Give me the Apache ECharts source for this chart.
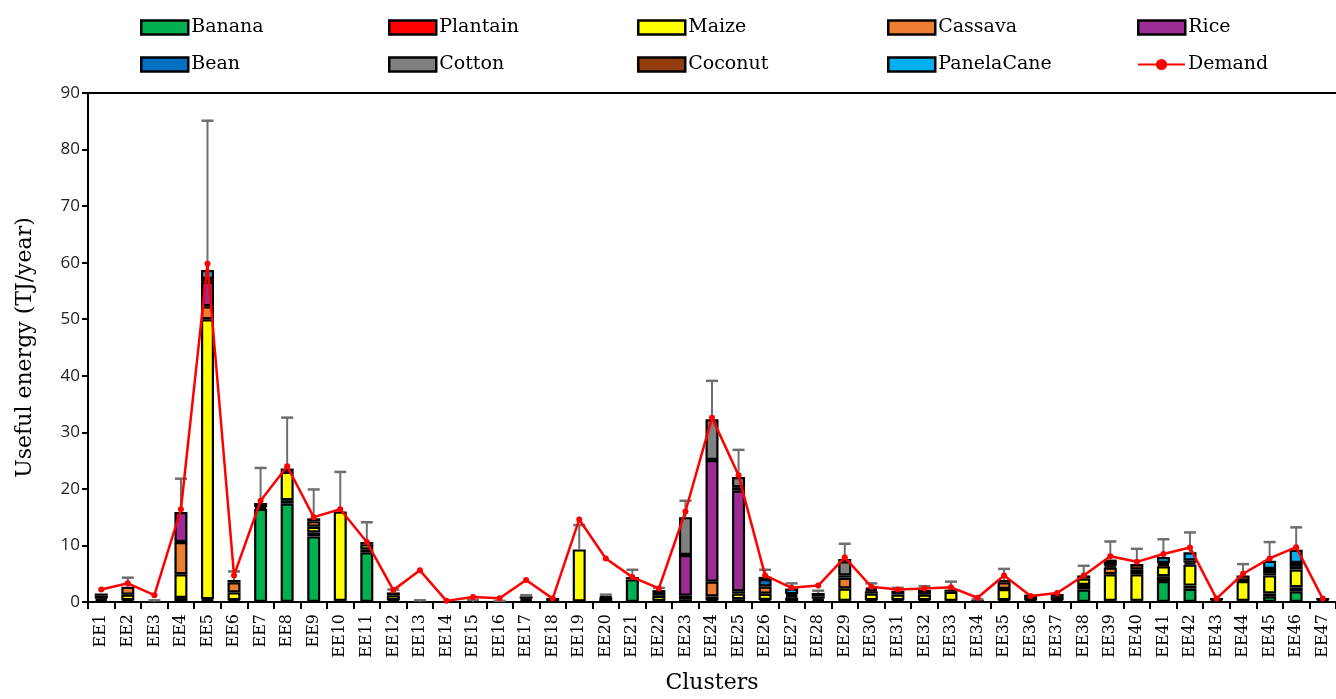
<!DOCTYPE html>
<html>
<head>
<meta charset="utf-8">
<style>
  html, body { margin: 0; padding: 0; background: #fff; }
  #chart { width: 1336px; height: 699px; }
</style>
<script src="https://cdn.jsdelivr.net/npm/echarts@6/dist/echarts.min.js"></script>
</head>
<body>
<div id="chart"></div>
<script>
// Cluster labels EE1..EE47
var categories = [];
for (var k = 1; k <= 47; k++) categories.push('EE' + k);

// Useful energy by crop residue (TJ/year), stacked bottom to top in this order
var banana = [0,0,0,0,0.2,0,16.5,17.4,11.6,0.2,8.8,0,0,0,0,0,0,0,0,0,4.0,0,0,0,0,0,0.8,0.3,0,0,0,0,0,0,0,0,0,2.2,0,0,3.7,2.35,0,0,1.0,1.9,0];
var plantain = [0.3,0.3,0,0.7,0.3,0.3,0.3,0.6,0.7,0,0.5,0.3,0,0,0,0,0.3,0.2,0.1,0.1,0,0.2,0.1,0.3,0.5,0.35,0.3,0.3,0.2,0.3,0.3,0.3,0.2,0.1,0.3,0.3,0.3,0.8,0.2,0.2,0.85,0.55,0.3,0.2,0.5,0.7,0.3];
var maize = [0.3,1.0,0,4.2,49.5,1.4,0.7,5.0,1.0,15.8,0.9,0.9,0,0,0,0,0,0,9.2,0.7,0,0.9,0.4,0.7,1.0,1.1,0,0,2.2,1.2,1.0,1.0,1.6,0,2.0,0.4,0,1.15,4.7,4.7,1.75,3.7,0,3.5,3.2,3.15,0];
var cassava = [0.5,1.4,0,5.7,2.3,1.8,0,0,1.0,0,0,0,0,0,0,0,0,0,0,0,0,0.5,0.6,2.6,0.4,1.3,0,0,1.9,0.4,0,0,0,0,1.2,0,0.6,0,1.2,0.8,0,0,0,0,0.4,0.6,0];
var rice = [0,0,0,5.3,4.3,0,0,0,0,0,0,0,0,0,0,0,0,0,0,0,0,0,7.2,21.5,17.8,0,0,0,0,0,0,0,0,0,0,0,0,0,0,0,0,0,0,0,0,0,0];
var bean = [0,0,0,0,0,0,0,0,0,0,0,0,0,0,0,0,0.3,0,0,0,0,0,0,0,0.6,1.3,0,0.4,0.4,0.3,0,0,0,0,0,0,0,0,0.3,0,0.3,0.35,0,0,0,0,0];
var cotton = [0,0,0,0,0,0,0,0,0,0,0,0,0,0,0,0,0,0,0,0,0,0,6.7,7.2,1.8,0,0,0,2.5,0,0,0,0,0,0,0,0,0,0.5,0,0,0,0,0,0,0,0];
var coconut = [0.4,0,0,0,0.5,0.4,0,0.6,0.5,0,0.4,0.5,0,0,0,0,0.4,0.5,0,0.2,0.4,0.5,0,0,0,0.4,0.3,0.6,0.4,0.3,0.7,0.8,0.4,0.1,0.4,0.6,0.5,0.55,0.6,1.0,0.3,0.4,0.4,1.0,0.75,0.55,0.4];
var panelaCane = [0,0,0,0,1.6,0,0,0,0,0,0,0,0,0,0,0,0,0,0,0,0,0,0,0,0,0,1.0,0,0,0,0,0,0,0,0,0,0,0,0,0,1.05,1.45,0,0,1.45,2.35,0];

// Upper end of the error whisker (TJ/year); null where no whisker is drawn
var errorTop = [null,4.3,0.3,21.8,85.1,5.4,23.7,32.6,19.9,23.0,14.1,2.2,0.3,null,0.4,0.2,1.2,null,13.6,1.3,5.7,2.5,17.9,39.1,26.9,5.7,3.3,2.0,10.3,3.3,2.5,2.8,3.6,0.5,5.85,null,null,6.4,10.7,9.4,11.1,12.3,null,6.7,10.6,13.2,null];

// Energy demand per cluster (TJ/year)
var demand = [2.2,3.3,1.2,16.4,59.8,4.7,17.9,24.0,15.0,16.4,10.6,2.1,5.6,0.2,0.9,0.65,3.9,0.6,14.6,7.7,4.4,2.4,16.0,32.6,22.4,4.7,2.5,2.9,7.9,2.7,2.2,2.4,2.6,0.75,4.7,1.05,1.6,4.7,8.1,7.1,8.5,9.65,0.6,5.0,7.7,9.7,0.6];

var yTicks = { min: 0, max: 90, interval: 10 };

var crops = [
  { name: 'Banana', data: banana, color: '#00b050' },
  { name: 'Plantain', data: plantain, color: '#ff0000' },
  { name: 'Maize', data: maize, color: '#ffff00' },
  { name: 'Cassava', data: cassava, color: '#ed7d31' },
  { name: 'Rice', data: rice, color: '#9c2c93' },
  { name: 'Bean', data: bean, color: '#0070c0' },
  { name: 'Cotton', data: cotton, color: '#808080' },
  { name: 'Coconut', data: coconut, color: '#933c10' },
  { name: 'PanelaCane', data: panelaCane, color: '#00b0f0' }
];

var serifFont = 'DejaVu Serif';

var series = crops.map(function (c) {
  return {
    name: c.name,
    type: 'bar',
    stack: 'energy',
    barWidth: 13,
    z: 2,
    itemStyle: { color: c.color, borderColor: '#000', borderWidth: 2.2 },
    data: c.data.map(function (v) { return v > 0 ? v : null; })
  };
});

// Stack totals, used as the base of each whisker
var totals = categories.map(function (_, i) {
  return crops.reduce(function (s, c) { return s + c.data[i]; }, 0);
});
var errData = [];
categories.forEach(function (_, i) {
  if (errorTop[i] !== null) errData.push([i, totals[i], errorTop[i]]);
});

series.push({
  name: 'error',
  type: 'custom',
  z: 3,
  silent: true,
  encode: { x: 0, y: [1, 2] },
  data: errData,
  renderItem: function (params, api) {
    var p0 = api.coord([api.value(0), api.value(1)]);
    var p1 = api.coord([api.value(0), api.value(2)]);
    var half = 6;
    return {
      type: 'group',
      children: [
        { type: 'line', shape: { x1: p0[0], y1: p0[1], x2: p1[0], y2: p1[1] },
          style: { stroke: '#6e6e6e', lineWidth: 2 } },
        { type: 'line', shape: { x1: p1[0] - half, y1: p1[1], x2: p1[0] + half, y2: p1[1] },
          style: { stroke: '#6e6e6e', lineWidth: 2.5 } }
      ]
    };
  }
});

series.push({
  name: 'Demand',
  type: 'line',
  z: 5,
  data: demand,
  symbol: 'circle',
  symbolSize: 6,
  lineStyle: { color: '#ff0000', width: 2.5 },
  itemStyle: { color: '#ff0000' }
});

// Legend laid out as two rows of five fixed columns
var legendOrder = ['Banana','Plantain','Maize','Cassava','Rice','Bean','Cotton','Coconut','PanelaCane','Demand'];
var colLeft = [135, 383, 632, 882, 1132];
var rowTop = [13, 50];
var legends = legendOrder.map(function (name, i) {
  var isLine = name === 'Demand';
  return {
    data: [isLine ? { name: name } : { name: name, icon: 'rect' }],
    left: colLeft[i % 5],
    top: rowTop[Math.floor(i / 5)],
    itemWidth: 47,
    itemHeight: 14,
    selectedMode: false,
    itemStyle: isLine ? { borderWidth: 0 } : { borderColor: '#000', borderWidth: 2.5 },
    textStyle: { fontFamily: serifFont, fontSize: 19, color: '#000', padding: [0, 0, 0, -2] }
  };
});

var chart = echarts.init(document.getElementById('chart'));
chart.setOption({
  animation: false,
  backgroundColor: '#fff',
  legend: legends,
  grid: { left: 88, top: 93, height: 513, width: 1254 },
  xAxis: [{
    type: 'category',
    data: categories,
    name: 'Clusters',
    nameLocation: 'middle',
    nameGap: 70,
    nameTextStyle: { fontFamily: serifFont, fontSize: 22, color: '#000' },
    axisLine: { lineStyle: { color: '#000', width: 2 } },
    axisTick: { show: true, interval: 0, length: 7, lineStyle: { color: '#000', width: 2 } },
    axisLabel: { interval: 0, rotate: 90, margin: 12, fontFamily: serifFont, fontSize: 16, color: '#000' }
  }, {
    type: 'category',
    position: 'top',
    data: categories,
    axisLine: { lineStyle: { color: '#000', width: 2 } },
    axisTick: { show: false },
    axisLabel: { show: false }
  }],
  yAxis: {
    type: 'value',
    min: yTicks.min,
    max: yTicks.max,
    interval: yTicks.interval,
    name: 'Useful energy (TJ/year)',
    nameLocation: 'middle',
    nameGap: 52,
    nameTextStyle: { fontFamily: serifFont, fontSize: 22, color: '#000' },
    splitLine: { show: false },
    axisLine: { show: true, lineStyle: { color: '#000', width: 2 } },
    axisTick: { show: true, length: 6, lineStyle: { color: '#000', width: 2 } },
    axisLabel: { fontFamily: 'Open Sans', fontSize: 17, color: '#222', margin: 8 }
  },
  series: series
});
</script>
</body>
</html>
